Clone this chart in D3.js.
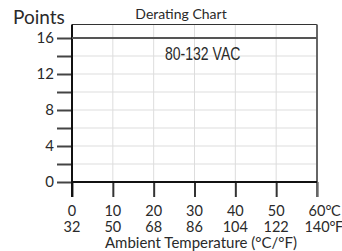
<!DOCTYPE html>
<html>
<head>
<script src="https://d3js.org/d3.v7.min.js"></script>
<style>
  body { margin: 0; background: #fff; }
  text { font-family: Lato, "Open Sans", sans-serif; fill: #2a2a2a; }
</style>
</head>
<body>
<svg width="342" height="251"></svg>
<script>
var celsius = [0, 10, 20, 30, 40, 50, 60];
var fahrenheit = [32, 50, 68, 86, 104, 122, 140];
var yTicks = [0, 2, 4, 6, 8, 10, 12, 14, 16];
var yLabels = [0, 4, 8, 12, 16];
var series = [{ label: "80-132 VAC", temp: [0, 60], points: [16, 16] }];

var svg = d3.select("svg");
var plotL = 72, plotR = 317, plotT = 24.5, plotB = 182;

var x = d3.scaleLinear().domain([0, 60]).range([plotL, plotR]);
var y = d3.scaleLinear().domain([0, 17.5]).range([plotB, plotT]);

// grid
svg.append("g").selectAll("line")
  .data(yTicks.slice(1)).enter().append("line")
  .attr("x1", plotL).attr("x2", plotR)
  .attr("y1", function(d) { return y(d); }).attr("y2", function(d) { return y(d); })
  .attr("stroke", "#ddd").attr("stroke-width", 1);
svg.append("g").selectAll("line")
  .data(celsius.slice(1, -1)).enter().append("line")
  .attr("x1", function(d) { return x(d); }).attr("x2", function(d) { return x(d); })
  .attr("y1", plotT).attr("y2", plotB)
  .attr("stroke", "#ddd").attr("stroke-width", 1);

// frame top
svg.append("line").attr("x1", plotL).attr("x2", plotR).attr("y1", plotT).attr("y2", plotT)
  .attr("stroke", "#333").attr("stroke-width", 1);

// y axis
var yAxis = d3.axisLeft(y).tickValues(yTicks).tickSize(15).tickPadding(3)
  .tickFormat(function(d) { return yLabels.indexOf(d) >= 0 ? d : ""; });
var gy = svg.append("g").attr("transform", "translate(" + plotL + ",0)").call(yAxis);
gy.select(".domain").remove();
gy.selectAll(".tick line").attr("stroke", "#444").attr("stroke-width", 2);
gy.selectAll(".tick text").style("font-family", "Lato").attr("font-size", 15).attr("fill", "#2a2a2a");

// x axis
var xAxis = d3.axisBottom(x).tickValues(celsius).tickSize(15).tickFormat("");
var gx = svg.append("g").attr("transform", "translate(0," + plotB + ")").call(xAxis);
gx.select(".domain").remove();
gx.selectAll(".tick line").attr("stroke", "#333").attr("stroke-width", 2);

// right border
svg.append("line").attr("x1", plotR).attr("x2", plotR).attr("y1", plotT).attr("y2", plotB + 15)
  .attr("stroke", "#666").attr("stroke-width", 2);

// axis lines
svg.append("line").attr("x1", plotL).attr("x2", plotL).attr("y1", plotT).attr("y2", plotB + 15)
  .attr("stroke", "#111").attr("stroke-width", 2);
svg.append("line").attr("x1", plotL).attr("x2", plotR).attr("y1", plotB).attr("y2", plotB)
  .attr("stroke", "#111").attr("stroke-width", 2);

// series line
var line = d3.line()
  .x(function(d) { return x(d[0]); })
  .y(function(d) { return y(d[1]); });
series.forEach(function(s) {
  svg.append("path")
    .datum(d3.zip(s.temp, s.points))
    .attr("d", line)
    .attr("fill", "none").attr("stroke", "#555").attr("stroke-width", 2);
  svg.append("text")
    .attr("transform", "translate(165,60) scale(0.78,1)")
    .style("font-family", "'Liberation Sans', Arial, sans-serif")
    .attr("font-size", 18).attr("fill", "#222")
    .text(s.label);
});

// x tick labels, two rows
function rowLabels(values, yPos, suffix) {
  values.forEach(function(v, i) {
    var t = svg.append("text").attr("x", x(celsius[i])).attr("y", yPos)
      .attr("text-anchor", "middle").attr("font-size", 14.5).text(v);
    if (i === values.length - 1) {
      var w = t.node().getComputedTextLength();
      svg.append("text").attr("x", x(celsius[i]) + w / 2).attr("y", yPos)
        .attr("font-size", 14.5).attr("letter-spacing", -0.5).text(suffix);
    }
  });
}
rowLabels(celsius, 216, "°C");
rowLabels(fahrenheit, 232, "°F");

// titles
svg.append("text").attr("x", 13).attr("y", 24).attr("font-size", 19).text("Points");
svg.append("text").attr("x", 181).attr("y", 19).attr("text-anchor", "middle")
  .attr("font-size", 14).text("Derating Chart");
svg.append("text").attr("x", 201).attr("y", 248).attr("text-anchor", "middle")
  .attr("font-size", 15).text("Ambient Temperature (°C/°F)");
</script>
</body>
</html>
